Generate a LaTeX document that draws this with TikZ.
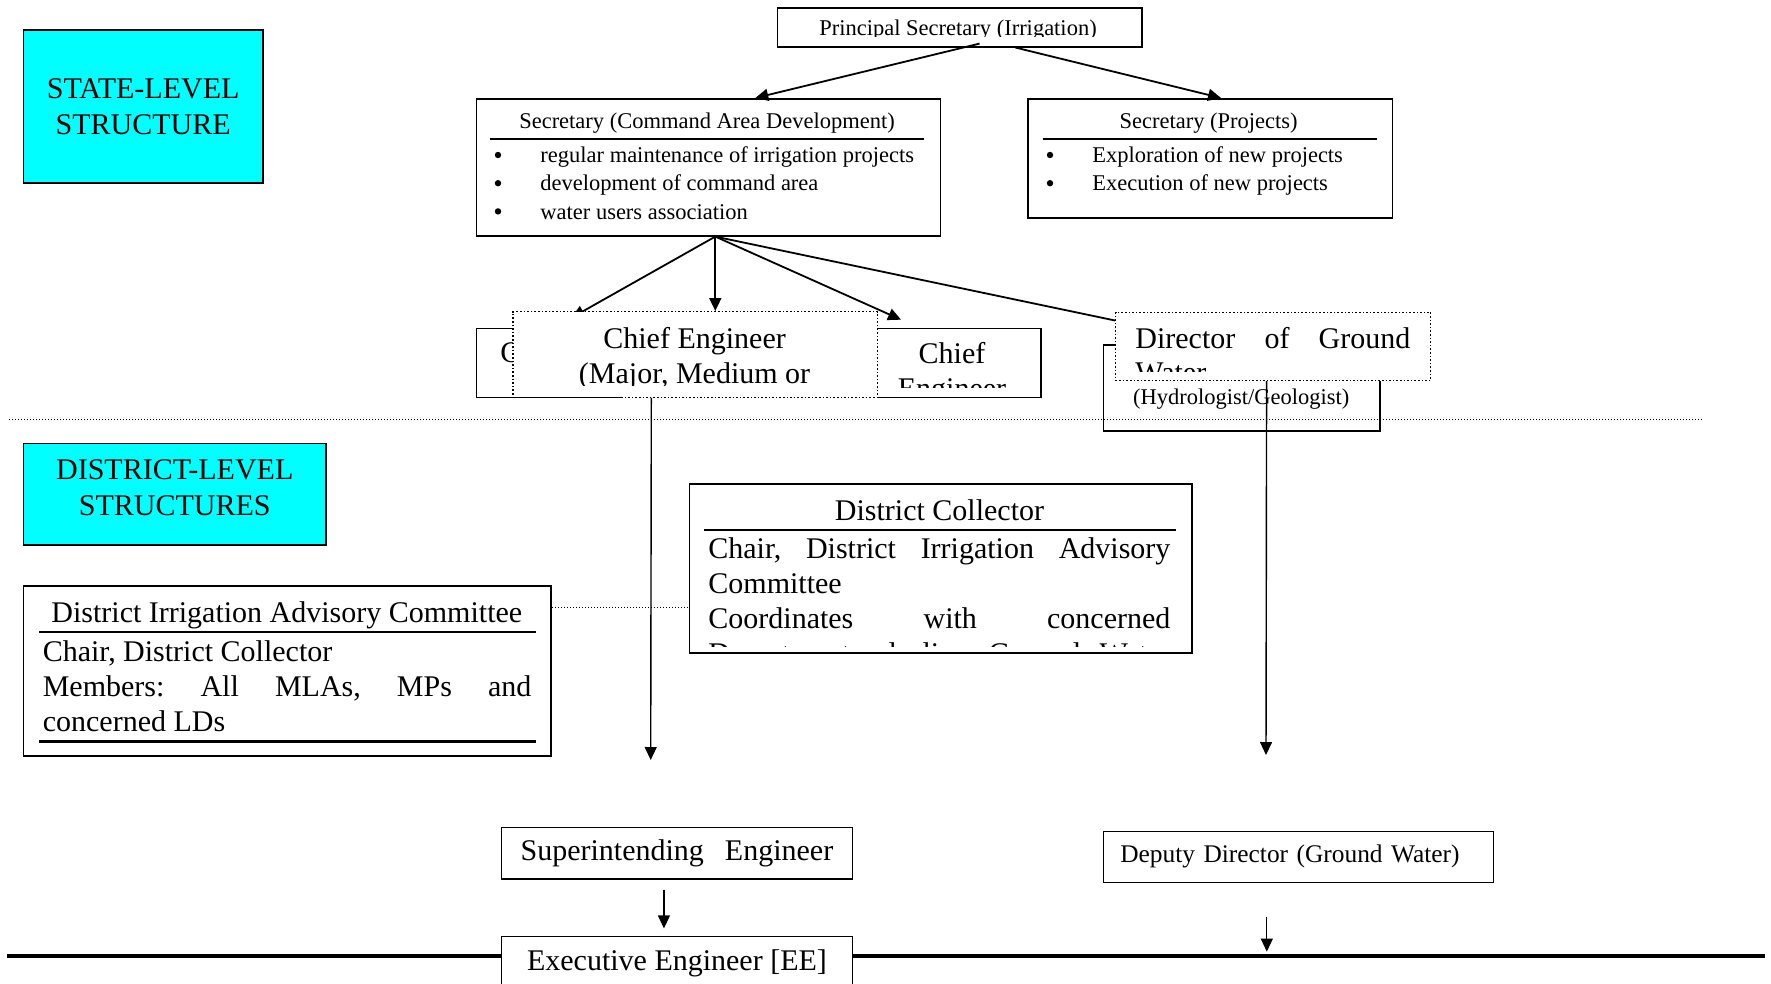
\documentclass[tikz,border=0pt]{standalone}
\usepackage{fontspec}
\setmainfont{Liberation Serif}
\usetikzlibrary{positioning}
\usetikzlibrary{arrows.meta}
\usetikzlibrary{backgrounds}

\definecolor{levelcyan}{RGB}{0,255,255}
\newcommand{\bigsize}{\fontsize{15pt}{17.5pt}\selectfont}
\newcommand{\smallsize}{\fontsize{11.25pt}{14pt}\selectfont}
\newcommand{\midsize}{\fontsize{12.7pt}{15pt}\selectfont}

\tikzset{box/.style={ % Plain framed box, placed by its top left corner
      draw, line width=0.8pt,
      fill=white,
      inner sep=0pt,
      anchor=north west},
      dotbox/.style={box, densely dotted, line width=0.6pt}, % Overlapping text frames
      levelbox/.style={box, fill=levelcyan, align=center, font=\fontsize{15pt}{18pt}\selectfont},
      txt/.style={inner sep=0pt, anchor=base},
      ltxt/.style={txt, anchor=base west},
      bul/.style={circle, fill, inner sep=0pt, minimum size=3.2pt}, % List bullets
      rule/.style={line width=1.4pt}, % Heavy line under a box title
      sepline/.style={densely dotted, line width=0.5pt},
      link/.style={ % Connectors between the offices
      draw, line width=0.9pt,
      -{Triangle[length=6.5pt,width=6pt]}}}

\begin{document}
\frenchspacing
\begin{tikzpicture}[x=0.5pt, y=-0.5pt]
      \useasboundingbox (0,0) rectangle (1771,984);
      \clip (0,0) rectangle (1771,984);

      \node[levelbox, minimum width=119.7pt, minimum height=76.3pt] (state) at (22.6,29.4) {STATE-LEVEL\\STRUCTURE};
      \node[levelbox, minimum width=151.35pt, minimum height=50.8pt, text depth=7pt] (district) at (22.6,442.8) {DISTRICT-LEVEL\\STRUCTURES};

      \node[box, minimum width=182.25pt, minimum height=19.25pt] (psec) at (776.5,7.5) {};
      \begin{scope}
            \clip (776.5,7.5) rectangle (1141,36.5);
            \node[txt, font=\smallsize] (psec-t) at (958,36) {Principal Secretary (Irrigation)};
      \end{scope}

      \node[box, minimum width=232pt, minimum height=68.5pt] (cad) at (475.5,98) {};
      \node[txt, font=\smallsize] (cad-t) at (707,129) {Secretary (Command Area Development)};
      \draw[rule] (490,139) -- (924,139);
      \foreach \duty [count=\i] in {regular maintenance of irrigation projects, development of command area, water users association} {
            \node[bul] (cad-b\i) at (498,126.8+28.2*\i) {};
            \node[ltxt, font=\smallsize] (cad-\i) at (540,134.5+28.2*\i) {\duty};
      }

      \node[box, minimum width=182.25pt, minimum height=59.5pt] (proj) at (1027,98) {};
      \node[txt, font=\smallsize] (proj-t) at (1208.6,129) {Secretary (Projects)};
      \draw[rule] (1042.5,139) -- (1376.8,139);
      \foreach \duty [count=\i] in {Exploration of new projects, Execution of new projects} {
            \node[bul] (proj-b\i) at (1050,126.8+28.2*\i) {};
            \node[ltxt, font=\smallsize] (proj-\i) at (1092,134.5+28.2*\i) {\duty};
      }

      \draw[link] ([xshift=10pt,yshift=2pt]psec.south) -- ([xshift=23.5pt]cad.north);
      \draw[link] ([xshift=28pt]psec.south) -- ([xshift=5.5pt]proj.north);

      \node[box, minimum width=72.25pt, minimum height=34.5pt] (chiefL) at (475.5,327.7) {};
      \node[ltxt, font=\bigsize] (chiefL-t) at (500,362) {Chief};
      \node[box, minimum width=81.75pt, minimum height=34.5pt] (chiefR) at (876.5,327.7) {};
      \node[txt, font=\bigsize] (chiefR-t) at (952,363.5) {Chief};
      \begin{scope}
            \clip (876.5,327.7) rectangle (1040,387);
            \node[txt, font=\bigsize] (chiefR-u) at (952,398) {Engineer};
      \end{scope}
      \node[dotbox, minimum width=182.3pt, minimum height=42.85pt] (chiefM) at (512.4,311) {};
      \begin{scope}
            \clip (512.4,311) rectangle (877,385.5);
            \node[txt, font=\bigsize] (chiefM-t) at (694.6,348.3) {Chief Engineer};
            \node[txt, font=\bigsize] (chiefM-u) at (694.6,383.3) {(Major, Medium or};
      \end{scope}

      \node[box, minimum width=138.15pt, minimum height=42.85pt] (dirS) at (1102.7,344.3) {};
      \node[ltxt, font=\smallsize] (dirS-t) at (1132.7,404) {(Hydrologist/Geologist)};
      \node[dotbox, minimum width=157.5pt, minimum height=34.25pt] (dirD) at (1115,311.5) {};
      \node[ltxt, font=\bigsize] (dirD-t) at (1135,348.8) {\makebox[137.5pt][s]{Director of Ground}};
      \begin{scope}
            \clip (1115,311.5) rectangle (1430,371.5);
            \node[ltxt, font=\bigsize] (dirD-u) at (1135,382.5) {Water};
      \end{scope}

      \begin{scope}[on background layer]
            \draw[link] ([xshift=3.5pt]cad.south) -- ([xshift=11.5pt,yshift=5pt]chiefL.north);
            \draw[link] ([xshift=3.5pt]cad.south) -- ([xshift=10pt]chiefM.north);
            \draw[link] ([xshift=3.5pt]cad.south) -- ([xshift=-29pt,yshift=4pt]chiefR.north);
            \draw[line width=0.9pt] ([xshift=3.5pt]cad.south) -- ([yshift=-4.5pt]dirD.north west);
      \end{scope}

      \coordinate (ce-end) at (650.7,760);
      \coordinate (gw-end) at (1266,755);
      \draw[link, line width=0.7pt] ([xshift=-22pt]chiefM.south) -- (ce-end);
      \draw[link, line width=0.7pt] ([xshift=-3.25pt]dirD.south) -- (gw-end);

      \draw[sepline] (9,419) -- (1703,419);

      \node[box, minimum width=263.9pt, minimum height=85pt] (diac) at (22.6,585) {};
      \node[txt, font=\bigsize] (diac-t) at (286.8,622.5) {District Irrigation Advisory Committee};
      \draw[rule, line width=1.2pt] (39.3,632) -- (535.7,632);
      \node[ltxt, font=\bigsize] (diac-1) at (42.4,661) {Chair, District Collector};
      \node[ltxt, font=\bigsize] (diac-2) at (42.4,696) {\makebox[244.3pt][s]{Members: All MLAs, MPs and}};
      \node[ltxt, font=\bigsize] (diac-3) at (42.4,731) {concerned LDs};
      \draw[rule, line width=1.2pt] (39.3,741.5) -- (535.7,741.5);

      \node[box, minimum width=251.25pt, minimum height=84.5pt] (dc) at (688.5,483) {};
      \node[txt, font=\bigsize] (dc-t) at (939.5,520.5) {District Collector};
      \draw[rule, line width=1.2pt] (704,530) -- (1176,530);
      \node[ltxt, font=\bigsize] (dc-1) at (708,558.3) {\makebox[231pt][s]{Chair, District Irrigation Advisory}};
      \node[ltxt, font=\bigsize] (dc-2) at (708,593.3) {Committee};
      \node[ltxt, font=\bigsize] (dc-3) at (708,628.3) {\makebox[231pt][s]{Coordinates with concerned}};
      \begin{scope}
            \clip (688.5,483) rectangle (1191,646);
            \node[ltxt, font=\bigsize] (dc-4) at (708,663.3) {\makebox[231pt][s]{Departments dealing Ground Water}};
      \end{scope}

      \coordinate (diac-link) at ([yshift=-11pt]diac.north east);
      \draw[sepline] (diac-link) -- (diac-link -| dc.west);

      \node[box, minimum width=175.65pt, minimum height=25.75pt, font=\bigsize] (se) at (500.5,826.5) {Superintending\hspace{0.7em}Engineer};
      \draw[line width=2pt] (6.8,955.5) -- (1765,955.5);
      \node[box, minimum width=175.65pt, minimum height=27pt, font=\bigsize, below=28pt of se] (ee) {Executive Engineer [EE]};
      \draw[link, line width=0.6pt] ([xshift=-6.5pt,yshift=-5pt]se.south) -- ([xshift=-6.5pt,yshift=3.6pt]ee.north);

      \node[box, text width=178pt, align=left, inner xsep=8.5pt, minimum height=25.5pt, font=\midsize] (dd) at (1102.5,830.5) {Deputy Director (Ground Water)};
      \draw[link, line width=0.6pt] ([xshift=-15.75pt,yshift=-16.75pt]dd.south) -- ([xshift=-15.75pt,yshift=-34.25pt]dd.south);
\end{tikzpicture}
\end{document}
